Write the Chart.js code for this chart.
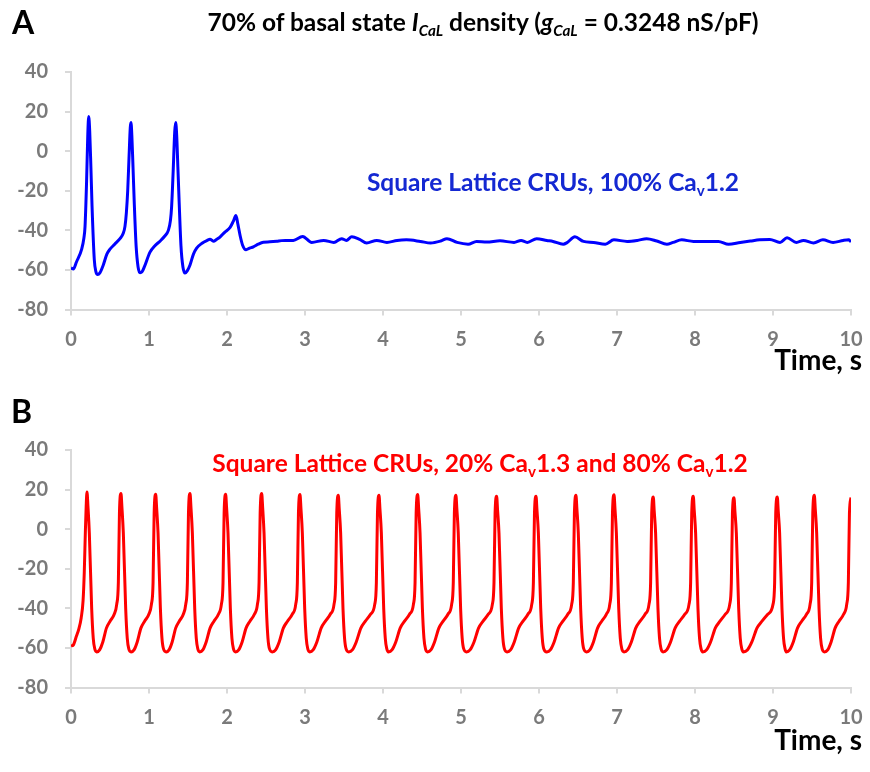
<!DOCTYPE html>
<html>
<head>
<meta charset="utf-8">
<script src="https://cdn.jsdelivr.net/npm/chart.js@4.4.1/dist/chart.umd.min.js"></script>
<style>
  html, body { margin: 0; padding: 0; background: #fff; }
  #page { position: relative; width: 870px; height: 772px; overflow: hidden; font-family: 'Lato', sans-serif; }
  canvas { position: absolute; left: 0; }
  .lbl { position: absolute; font-weight: bold; line-height: 1; white-space: nowrap; }
  .lbl sub { font-size: 0.62em; vertical-align: baseline; position: relative; top: 0.32em; }
  .mid { transform: translateX(-50%); }
</style>
</head>
<body>
<div id="page">
  <canvas id="chartA" width="870" height="360" style="top:0px"></canvas>
  <canvas id="chartB" width="870" height="360" style="top:378px"></canvas>

  <div class="lbl" style="left:12px; top:6px; font-size:32px; color:#000">A</div>
  <div class="lbl mid" style="left:483px; top:10px; font-size:24.5px; color:#000">70% of basal state <i>I</i><sub><i>CaL</i></sub> density (<i>g</i><sub><i>CaL</i></sub> = 0.3248 nS/pF)</div>
  <div class="lbl mid" style="left:553px; top:170px; font-size:24.5px; color:#1428d2">Square Lattice CRUs, 100% Ca<sub>v</sub>1.2</div>
  <div class="lbl" style="right:8px; top:345px; font-size:28px; color:#000">Time, s</div>

  <div class="lbl" style="left:11px; top:395px; font-size:32px; color:#000">B</div>
  <div class="lbl mid" style="left:480px; top:451px; font-size:24.5px; color:#ff0000">Square Lattice CRUs, 20% Ca<sub>v</sub>1.3 and 80% Ca<sub>v</sub>1.2</div>
  <div class="lbl" style="right:8px; top:725px; font-size:28px; color:#000">Time, s</div>
</div>

<script>
// axis ranges (mV, s)
const xMin = 0, xMax = 10, xStep = 1;
const yMin = -80, yMax = 40, yStep = 20;

// panel A: [time s, voltage mV]
const blueTrace = [
  [0, -59], [0.03, -59.5], [0.07, -56], [0.137, -49.5], [0.165, -44], [0.18, -38], [0.2, -15], [0.215, 8], [0.227, 17.5],
  [0.24, 10], [0.255, -8], [0.27, -28], [0.299, -55], [0.32, -61], [0.342, -62.3], [0.37, -61.5], [0.414, -57.5],
  [0.46, -52], [0.5, -49.5], [0.56, -47], [0.628, -44.2], [0.67, -41.5], [0.692, -38], [0.71, -31], [0.727, -20],
  [0.745, -2], [0.76, 12], [0.769, 14.5], [0.78, 8], [0.795, -8], [0.81, -25], [0.835, -48], [0.86, -58.5],
  [0.885, -61.4], [0.91, -61], [0.94, -58.5], [1.013, -51], [1.07, -48], [1.141, -45.5], [1.2, -43], [1.248, -40],
  [1.275, -35], [1.29, -28], [1.31, -10], [1.33, 10], [1.342, 14.5], [1.355, 8], [1.37, -8], [1.385, -24],
  [1.41, -48], [1.435, -58.5], [1.462, -61.6], [1.49, -60.5], [1.526, -57.5], [1.57, -52], [1.611, -49],
  [1.68, -46.5], [1.75, -45], [1.782, -44.5], [1.825, -45.5], [1.87, -44.5], [1.91, -43.4], [1.97, -41],
  [2.04, -38.5], [2.08, -35.5], [2.115, -32.5], [2.14, -37], [2.17, -43], [2.2, -47.5], [2.244, -49.8],
  [2.29, -49], [2.338, -48.3], [2.4, -47], [2.466, -46], [2.55, -45.8], [2.64, -45.5], [2.7, -45.2], [2.85, -45.1],
  [2.97, -43.1], [3.086, -46.1], [3.24, -45.1], [3.37, -46.1], [3.47, -44.2], [3.53, -45.1], [3.6, -43.3],
  [3.7, -44.6], [3.79, -46.4], [3.92, -45.1], [4.05, -46.1], [4.18, -45.1], [4.3, -44.8], [4.48, -45.6],
  [4.61, -46.4], [4.74, -45.4], [4.82, -44.2], [4.95, -46.1], [5.09, -47], [5.2, -45.6], [5.33, -45.9],
  [5.5, -45.3], [5.68, -46.1], [5.77, -45.1], [5.85, -46.1], [5.97, -44.2], [6.1, -45.1], [6.18, -45.6],
  [6.31, -47], [6.36, -46.2], [6.46, -43.3], [6.57, -45.6], [6.7, -46.1], [6.85, -47], [6.96, -44.8],
  [7.13, -45.6], [7.26, -45.1], [7.38, -44.2], [7.51, -45.4], [7.64, -47], [7.72, -46.1], [7.83, -44.8],
  [7.98, -45.6], [8.15, -45.6], [8.3, -45.6], [8.43, -47], [8.58, -46.1], [8.71, -45.4], [8.83, -44.8],
  [8.96, -44.6], [9.09, -46.1], [9.18, -43.8], [9.3, -46.1], [9.39, -45.1], [9.52, -46.4], [9.64, -44.8],
  [9.77, -46.1], [9.9, -45.1], [9.97, -44.8], [10, -45.8]
];

// panel B: [time s, voltage mV], one line per beat of the red trace
const redTrace = [
  [0, -59], [0.03, -58.5], [0.07, -54], [0.1, -50.5], [0.13, -45], [0.155, -36], [0.17, -22], [0.185, 0], [0.195, 12], [0.205, 18.8],
  [0.217, 11.8], [0.235, -2], [0.265, -40], [0.285, -55], [0.305, -60.5], [0.33, -62], [0.367, -61], [0.408, -57], [0.454, -50], [0.501, -46.5], [0.554, -43], [0.586, -38], [0.607, -27], [0.621, 8], [0.641, 18],
  [0.653, 11], [0.671, -2], [0.701, -40], [0.721, -55], [0.741, -60.5], [0.77, -62], [0.808, -61], [0.849, -57], [0.896, -50], [0.944, -46.5], [0.998, -43], [1.031, -38], [1.052, -27], [1.066, 8], [1.086, 17.6],
  [1.098, 10.6], [1.116, -2], [1.146, -40], [1.166, -55], [1.186, -60.5], [1.22, -62], [1.257, -61], [1.297, -57], [1.342, -50], [1.388, -46.5], [1.44, -43], [1.471, -38], [1.492, -27], [1.506, 8], [1.526, 18],
  [1.538, 11], [1.556, -2], [1.586, -40], [1.606, -55], [1.626, -60.5], [1.65, -62], [1.69, -61], [1.733, -57], [1.783, -50], [1.833, -46.5], [1.89, -43], [1.928, -38], [1.949, -27], [1.963, 8], [1.983, 17.6],
  [1.995, 10.6], [2.013, -2], [2.043, -40], [2.063, -55], [2.083, -60.5], [2.11, -62], [2.15, -61], [2.194, -57], [2.244, -50], [2.294, -46.5], [2.351, -43], [2.39, -38], [2.411, -27], [2.425, 8], [2.445, 18],
  [2.457, 11], [2.475, -2], [2.505, -40], [2.525, -55], [2.545, -60.5], [2.58, -62], [2.623, -61], [2.669, -57], [2.722, -50], [2.776, -46.5], [2.836, -43], [2.881, -38], [2.902, -27], [2.916, 8], [2.936, 17.5],
  [2.948, 10.5], [2.966, -2], [2.996, -40], [3.016, -55], [3.036, -60.5], [3.06, -62], [3.104, -61], [3.152, -57], [3.207, -50], [3.262, -46.5], [3.324, -43], [3.372, -38], [3.393, -27], [3.407, 8], [3.427, 17.1],
  [3.439, 10.1], [3.457, -2], [3.487, -40], [3.507, -55], [3.527, -60.5], [3.56, -62], [3.607, -61], [3.657, -57], [3.716, -50], [3.774, -46.5], [3.84, -43], [3.894, -38], [3.915, -27], [3.929, 8], [3.949, 17.1],
  [3.961, 10.1], [3.979, -2], [4.009, -40], [4.029, -55], [4.049, -60.5], [4.07, -62], [4.115, -61], [4.164, -57], [4.22, -50], [4.276, -46.5], [4.34, -43], [4.39, -38], [4.411, -27], [4.425, 8], [4.445, 17.5],
  [4.457, 10.5], [4.475, -2], [4.505, -40], [4.525, -55], [4.545, -60.5], [4.57, -62], [4.614, -61], [4.661, -57], [4.716, -50], [4.771, -46.5], [4.833, -43], [4.88, -38], [4.901, -27], [4.915, 8], [4.935, 17.1],
  [4.947, 10.1], [4.965, -2], [4.995, -40], [5.015, -55], [5.035, -60.5], [5.07, -62], [5.116, -61], [5.167, -57], [5.225, -50], [5.283, -46.5], [5.349, -43], [5.402, -38], [5.423, -27], [5.437, 8], [5.457, 16.6],
  [5.469, 9.6], [5.487, -2], [5.517, -40], [5.537, -55], [5.557, -60.5], [5.59, -62], [5.635, -61], [5.683, -57], [5.739, -50], [5.795, -46.5], [5.858, -43], [5.907, -38], [5.928, -27], [5.942, 8], [5.962, 16.6],
  [5.974, 9.6], [5.992, -2], [6.022, -40], [6.042, -55], [6.062, -60.5], [6.1, -62], [6.145, -61], [6.194, -57], [6.25, -50], [6.306, -46.5], [6.369, -43], [6.419, -38], [6.44, -27], [6.454, 8], [6.474, 17.1],
  [6.486, 10.1], [6.504, -2], [6.534, -40], [6.554, -55], [6.574, -60.5], [6.61, -62], [6.652, -61], [6.698, -57], [6.751, -50], [6.804, -46.5], [6.863, -43], [6.907, -38], [6.928, -27], [6.942, 8], [6.962, 17.4],
  [6.974, 10.4], [6.992, -2], [7.022, -40], [7.042, -55], [7.062, -60.5], [7.09, -62], [7.135, -61], [7.184, -57], [7.24, -50], [7.296, -46.5], [7.36, -43], [7.41, -38], [7.431, -27], [7.445, 8], [7.465, 16.2],
  [7.477, 9.2], [7.495, -2], [7.525, -40], [7.545, -55], [7.565, -60.5], [7.59, -62], [7.637, -61], [7.687, -57], [7.745, -50], [7.803, -46.5], [7.869, -43], [7.923, -38], [7.944, -27], [7.958, 8], [7.978, 16.6],
  [7.99, 9.6], [8.008, -2], [8.038, -40], [8.058, -55], [8.078, -60.5], [8.1, -62], [8.148, -61], [8.2, -57], [8.26, -50], [8.32, -46.5], [8.388, -43], [8.445, -38], [8.466, -27], [8.48, 8], [8.5, 15.9],
  [8.512, 8.9], [8.53, -2], [8.56, -40], [8.58, -55], [8.6, -60.5], [8.62, -62], [8.672, -61], [8.729, -57], [8.794, -50], [8.859, -46.5], [8.933, -43], [9.0, -38], [9.021, -27], [9.035, 8], [9.055, 16.2],
  [9.067, 9.2], [9.085, -2], [9.115, -40], [9.135, -55], [9.155, -60.5], [9.17, -62], [9.213, -61], [9.26, -57], [9.314, -50], [9.368, -46.5], [9.429, -43], [9.475, -38], [9.496, -27], [9.51, 8], [9.53, 17.1],
  [9.542, 10.1], [9.56, -2], [9.59, -40], [9.61, -55], [9.63, -60.5], [9.66, -62], [9.701, -61], [9.745, -57], [9.796, -50], [9.847, -46.5], [9.905, -43], [9.945, -38], [9.966, -27], [9.98, 8], [10, 16]
];

const tickFont = { family: 'Lato', weight: 'bold', size: 20 };
const tickColor = '#7a7a7a';
const axisColor = '#d9d9d9';

function makeChart(canvasId, trace, color) {
    const ctx = document.getElementById(canvasId).getContext('2d');
    return new Chart(ctx, {
        type: 'line',
        data: {
            datasets: [{
                data: trace.map(p => ({ x: p[0], y: p[1] })),
                borderColor: color,
                borderWidth: 3,
                pointRadius: 0,
                fill: false,
                cubicInterpolationMode: 'monotone'
            }]
        },
        options: {
            responsive: false,
            animation: false,
            devicePixelRatio: 1,
            layout: { padding: { top: 72, right: 19, left: 0, bottom: 0 } },
            plugins: { legend: { display: false }, tooltip: { enabled: false } },
            scales: {
                x: {
                    type: 'linear',
                    min: xMin,
                    max: xMax,
                    ticks: { stepSize: xStep, font: tickFont, color: tickColor, padding: 12, maxRotation: 0 },
                    grid: { drawOnChartArea: false, tickLength: 6, color: axisColor, lineWidth: 2 },
                    border: { color: axisColor, width: 2 },
                    // pin the plot box: the end labels must not squeeze it
                    afterFit: scale => { scale.height = 50.5; scale.paddingLeft = 0; scale.paddingRight = 0; }
                },
                y: {
                    min: yMin,
                    max: yMax,
                    ticks: { stepSize: yStep, font: tickFont, color: tickColor, padding: 17 },
                    grid: { drawOnChartArea: false, tickLength: 6, color: axisColor, lineWidth: 2 },
                    border: { color: axisColor, width: 2 },
                    afterFit: scale => { scale.width = 71; scale.paddingTop = 0; scale.paddingBottom = 0; }
                }
            }
        }
    });
}

document.fonts.load('bold 20px Lato').then(() => {
    makeChart('chartA', blueTrace, '#0000ff');
    makeChart('chartB', redTrace, '#ff0000');
});
</script>
</body>
</html>
